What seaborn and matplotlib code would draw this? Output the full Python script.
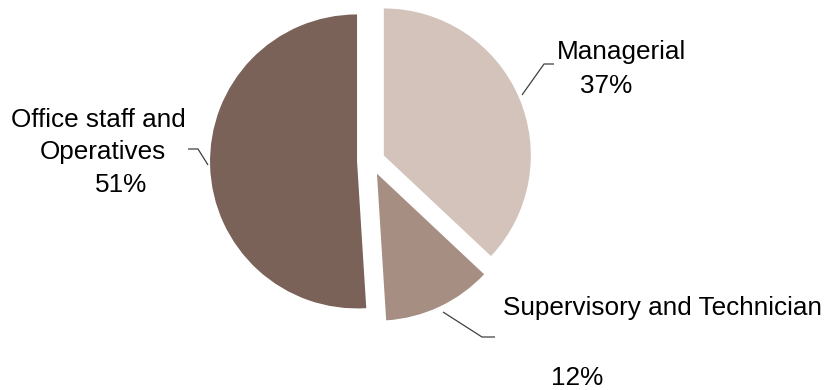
import matplotlib
matplotlib.use("Agg")
import matplotlib.pyplot as plt
import seaborn as sns

# Staff mix by grade (percent of total)
categories = ["Managerial", "Supervisory and Technician", "Office staff and\nOperatives"]
shares = [37, 12, 51]
slice_colors = ["#D3C3BA", "#A68E82", "#7B6258"]

sns.set_theme(style="white")
plt.rcParams["font.family"] = ["Liberation Sans", "DejaVu Sans"]

W, H = 830, 390
fig = plt.figure(figsize=(W / 100, H / 100), dpi=100)
ax = fig.add_axes([0, 0, 1, 1])

# Work in pixel-like units (y measured upward from the bottom edge)
cx, cy, r = 371, H - 161, 147
gap = 0.095 * r  # pie() takes the explode offset in data units
ax.pie(
    shares,
    colors=slice_colors,
    startangle=90,
    counterclock=False,
    explode=[gap] * len(shares),
    center=(cx, cy),
    radius=r,
    wedgeprops=dict(linewidth=0),
)
ax.set_xlim(0, W)
ax.set_ylim(0, H)
ax.set_aspect("equal")
ax.axis("off")

fs = 18.8
pct = [f"{v:.0f}%" for v in shares]

def put(x, y_top_down, s):
    ax.text(x, H - y_top_down, s, fontsize=fs, ha="left", va="baseline", color="black")

# Managerial
put(557, 59, categories[0])
put(580, 93, pct[0])
# Supervisory and Technician
put(503, 315, categories[1])
put(551, 385, pct[1])
# Office staff and Operatives
line1, line2 = categories[2].split("\n")
put(11, 127, line1)
put(40, 159.5, line2)
put(95, 192, pct[2])

# Leader lines
lc = "#404040"
def leader(pts):
    xs = [p[0] for p in pts]
    ys = [H - p[1] for p in pts]
    ax.plot(xs, ys, color=lc, lw=0.9, solid_capstyle="butt")

leader([(522, 95), (544, 64), (554, 64)])
leader([(443, 312), (482, 337), (495, 337)])
leader([(188, 149), (198, 149), (208, 165)])

fig.savefig("out.png", dpi=100, facecolor="white")
